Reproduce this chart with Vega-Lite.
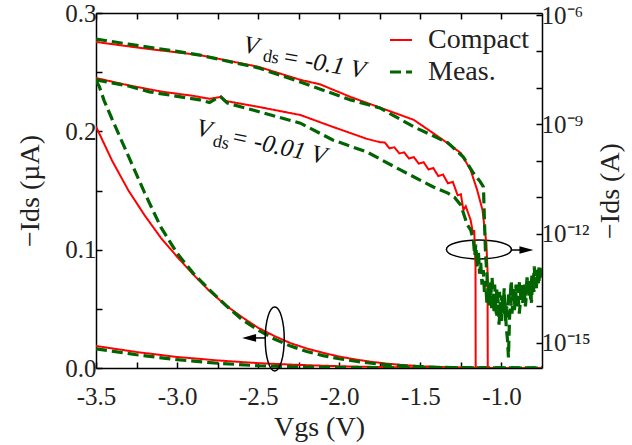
{
  "$schema": "https://vega.github.io/schema/vega-lite/v6.json",
  "width": 446,
  "height": 355,
  "autosize": {"type": "none"},
  "padding": {"left": 96, "top": 13, "right": 90, "bottom": 77},
  "background": "white",
  "config": {
    "font": "Liberation Serif",
    "view": {"stroke": null},
    "axis": {
      "grid": false,
      "domainColor": "black",
      "domainWidth": 1.5,
      "tickColor": "black",
      "tickWidth": 1.5,
      "tickSize": -6,
      "labelColor": "#222",
      "titleColor": "#222",
      "labelFont": "Liberation Serif",
      "titleFont": "Liberation Serif",
      "labelFontSize": 25,
      "titleFontSize": 28,
      "titleFontWeight": "normal",
      "labelFlush": false,
      "labelOverlap": false,
      "labelBound": false
    },
    "legend": {
      "orient": "none",
      "legendX": 291,
      "legendY": 13,
      "padding": 0,
      "title": null,
      "labelFont": "Liberation Serif",
      "labelFontSize": 28,
      "labelColor": "#222",
      "labelOffset": 13,
      "rowPadding": 4,
      "symbolType": "stroke",
      "symbolSize": 484,
      "symbolStrokeWidth": 2.5
    }
  },
  "datasets": {
    "lin": [
      {"x": -3.5, "v": 0.204, "vds": "0.1", "type": "Compact"},
      {"x": -3.4, "v": 0.175, "vds": "0.1", "type": "Compact"},
      {"x": -3.3, "v": 0.150, "vds": "0.1", "type": "Compact"},
      {"x": -3.2, "v": 0.129, "vds": "0.1", "type": "Compact"},
      {"x": -3.1, "v": 0.110, "vds": "0.1", "type": "Compact"},
      {"x": -3.0, "v": 0.094, "vds": "0.1", "type": "Compact"},
      {"x": -2.9, "v": 0.079, "vds": "0.1", "type": "Compact"},
      {"x": -2.8, "v": 0.065, "vds": "0.1", "type": "Compact"},
      {"x": -2.7, "v": 0.053, "vds": "0.1", "type": "Compact"},
      {"x": -2.6, "v": 0.043, "vds": "0.1", "type": "Compact"},
      {"x": -2.5, "v": 0.034, "vds": "0.1", "type": "Compact"},
      {"x": -2.4, "v": 0.027, "vds": "0.1", "type": "Compact"},
      {"x": -2.3, "v": 0.021, "vds": "0.1", "type": "Compact"},
      {"x": -2.2, "v": 0.0165, "vds": "0.1", "type": "Compact"},
      {"x": -2.1, "v": 0.0128, "vds": "0.1", "type": "Compact"},
      {"x": -2.0, "v": 0.0097, "vds": "0.1", "type": "Compact"},
      {"x": -1.9, "v": 0.0072, "vds": "0.1", "type": "Compact"},
      {"x": -1.8, "v": 0.0052, "vds": "0.1", "type": "Compact"},
      {"x": -1.7, "v": 0.0036, "vds": "0.1", "type": "Compact"},
      {"x": -1.6, "v": 0.0024, "vds": "0.1", "type": "Compact"},
      {"x": -1.5, "v": 0.0015, "vds": "0.1", "type": "Compact"},
      {"x": -1.4, "v": 0.0009, "vds": "0.1", "type": "Compact"},
      {"x": -1.3, "v": 0.0005, "vds": "0.1", "type": "Compact"},
      {"x": -1.2, "v": 0.0003, "vds": "0.1", "type": "Compact"},
      {"x": -1.1, "v": 0.0001, "vds": "0.1", "type": "Compact"},
      {"x": -0.9, "v": 0.0, "vds": "0.1", "type": "Compact"},
      {"x": -0.75, "v": 0.0, "vds": "0.1", "type": "Compact"},
      {"x": -3.5, "v": 0.0186, "vds": "0.01", "type": "Compact"},
      {"x": -3.25, "v": 0.0135, "vds": "0.01", "type": "Compact"},
      {"x": -3.0, "v": 0.0093, "vds": "0.01", "type": "Compact"},
      {"x": -2.75, "v": 0.0064, "vds": "0.01", "type": "Compact"},
      {"x": -2.5, "v": 0.0041, "vds": "0.01", "type": "Compact"},
      {"x": -2.25, "v": 0.0026, "vds": "0.01", "type": "Compact"},
      {"x": -2.0, "v": 0.0015, "vds": "0.01", "type": "Compact"},
      {"x": -1.75, "v": 0.0008, "vds": "0.01", "type": "Compact"},
      {"x": -1.5, "v": 0.0004, "vds": "0.01", "type": "Compact"},
      {"x": -1.25, "v": 0.0001, "vds": "0.01", "type": "Compact"},
      {"x": -1.0, "v": 0.0, "vds": "0.01", "type": "Compact"},
      {"x": -0.75, "v": 0.0, "vds": "0.01", "type": "Compact"},
      {"x": -3.5, "v": 0.243, "vds": "0.1", "type": "Meas."},
      {"x": -3.48, "v": 0.238, "vds": "0.1", "type": "Meas."},
      {"x": -3.45, "v": 0.226, "vds": "0.1", "type": "Meas."},
      {"x": -3.4, "v": 0.210, "vds": "0.1", "type": "Meas."},
      {"x": -3.3, "v": 0.179, "vds": "0.1", "type": "Meas."},
      {"x": -3.2, "v": 0.148, "vds": "0.1", "type": "Meas."},
      {"x": -3.1, "v": 0.119, "vds": "0.1", "type": "Meas."},
      {"x": -3.0, "v": 0.097, "vds": "0.1", "type": "Meas."},
      {"x": -2.9, "v": 0.080, "vds": "0.1", "type": "Meas."},
      {"x": -2.8, "v": 0.066, "vds": "0.1", "type": "Meas."},
      {"x": -2.7, "v": 0.053, "vds": "0.1", "type": "Meas."},
      {"x": -2.6, "v": 0.041, "vds": "0.1", "type": "Meas."},
      {"x": -2.5, "v": 0.032, "vds": "0.1", "type": "Meas."},
      {"x": -2.4, "v": 0.0245, "vds": "0.1", "type": "Meas."},
      {"x": -2.3, "v": 0.0185, "vds": "0.1", "type": "Meas."},
      {"x": -2.2, "v": 0.014, "vds": "0.1", "type": "Meas."},
      {"x": -2.1, "v": 0.0105, "vds": "0.1", "type": "Meas."},
      {"x": -2.0, "v": 0.0078, "vds": "0.1", "type": "Meas."},
      {"x": -1.9, "v": 0.0057, "vds": "0.1", "type": "Meas."},
      {"x": -1.8, "v": 0.004, "vds": "0.1", "type": "Meas."},
      {"x": -1.7, "v": 0.0027, "vds": "0.1", "type": "Meas."},
      {"x": -1.6, "v": 0.0018, "vds": "0.1", "type": "Meas."},
      {"x": -1.5, "v": 0.0011, "vds": "0.1", "type": "Meas."},
      {"x": -1.4, "v": 0.0006, "vds": "0.1", "type": "Meas."},
      {"x": -1.3, "v": 0.0003, "vds": "0.1", "type": "Meas."},
      {"x": -1.2, "v": 0.0002, "vds": "0.1", "type": "Meas."},
      {"x": -1.0, "v": 0.0001, "vds": "0.1", "type": "Meas."},
      {"x": -0.75, "v": 0.0001, "vds": "0.1", "type": "Meas."},
      {"x": -3.5, "v": 0.0162, "vds": "0.01", "type": "Meas."},
      {"x": -3.25, "v": 0.0112, "vds": "0.01", "type": "Meas."},
      {"x": -3.0, "v": 0.0070, "vds": "0.01", "type": "Meas."},
      {"x": -2.75, "v": 0.0040, "vds": "0.01", "type": "Meas."},
      {"x": -2.5, "v": 0.0019, "vds": "0.01", "type": "Meas."},
      {"x": -2.25, "v": 0.0009, "vds": "0.01", "type": "Meas."},
      {"x": -2.0, "v": 0.0004, "vds": "0.01", "type": "Meas."},
      {"x": -1.75, "v": 0.0002, "vds": "0.01", "type": "Meas."},
      {"x": -1.5, "v": 0.0001, "vds": "0.01", "type": "Meas."},
      {"x": -0.75, "v": 0.0, "vds": "0.01", "type": "Meas."}
    ],
    "log": [
      {"x": -3.5, "logI": -6.74, "vds": "0.1", "type": "Compact"},
      {"x": -3.2, "logI": -6.92, "vds": "0.1", "type": "Compact"},
      {"x": -2.86, "logI": -7.10, "vds": "0.1", "type": "Compact"},
      {"x": -2.5, "logI": -7.42, "vds": "0.1", "type": "Compact"},
      {"x": -2.24, "logI": -7.78, "vds": "0.1", "type": "Compact"},
      {"x": -2.12, "logI": -7.90, "vds": "0.1", "type": "Compact"},
      {"x": -1.93, "logI": -8.25, "vds": "0.1", "type": "Compact"},
      {"x": -1.62, "logI": -8.75, "vds": "0.1", "type": "Compact"},
      {"x": -1.54, "logI": -8.88, "vds": "0.1", "type": "Compact"},
      {"x": -1.36, "logI": -9.43, "vds": "0.1", "type": "Compact"},
      {"x": -1.25, "logI": -9.79, "vds": "0.1", "type": "Compact"},
      {"x": -1.19, "logI": -10.26, "vds": "0.1", "type": "Compact"},
      {"x": -1.15, "logI": -10.80, "vds": "0.1", "type": "Compact"},
      {"x": -1.117, "logI": -11.35, "vds": "0.1", "type": "Compact"},
      {"x": -1.105, "logI": -11.82, "vds": "0.1", "type": "Compact"},
      {"x": -1.093, "logI": -12.26, "vds": "0.1", "type": "Compact"},
      {"x": -1.086, "logI": -13.0, "vds": "0.1", "type": "Compact"},
      {"x": -1.083, "logI": -18.0, "vds": "0.1", "type": "Compact"},
      {"x": -3.5, "logI": -7.73, "vds": "0.01", "type": "Compact"},
      {"x": -3.3, "logI": -7.93, "vds": "0.01", "type": "Compact"},
      {"x": -3.1, "logI": -8.10, "vds": "0.01", "type": "Compact"},
      {"x": -2.9, "logI": -8.22, "vds": "0.01", "type": "Compact"},
      {"x": -2.8, "logI": -8.30, "vds": "0.01", "type": "Compact"},
      {"x": -2.76, "logI": -8.27, "vds": "0.01", "type": "Compact"},
      {"x": -2.73, "logI": -8.25, "vds": "0.01", "type": "Compact"},
      {"x": -2.70, "logI": -8.36, "vds": "0.01", "type": "Compact"},
      {"x": -2.5, "logI": -8.52, "vds": "0.01", "type": "Compact"},
      {"x": -2.24, "logI": -8.745, "vds": "0.01", "type": "Compact"},
      {"x": -2.04, "logI": -9.07, "vds": "0.01", "type": "Compact"},
      {"x": -1.83, "logI": -9.40, "vds": "0.01", "type": "Compact"},
      {"x": -1.75, "logI": -9.49, "vds": "0.01", "type": "Compact"},
      {"x": -1.72, "logI": -9.50, "vds": "0.01", "type": "Compact"},
      {"x": -1.69, "logI": -9.66, "vds": "0.01", "type": "Compact"},
      {"x": -1.66, "logI": -9.63, "vds": "0.01", "type": "Compact"},
      {"x": -1.63, "logI": -9.80, "vds": "0.01", "type": "Compact"},
      {"x": -1.60, "logI": -9.77, "vds": "0.01", "type": "Compact"},
      {"x": -1.57, "logI": -9.94, "vds": "0.01", "type": "Compact"},
      {"x": -1.54, "logI": -9.90, "vds": "0.01", "type": "Compact"},
      {"x": -1.51, "logI": -10.08, "vds": "0.01", "type": "Compact"},
      {"x": -1.48, "logI": -10.04, "vds": "0.01", "type": "Compact"},
      {"x": -1.45, "logI": -10.24, "vds": "0.01", "type": "Compact"},
      {"x": -1.42, "logI": -10.20, "vds": "0.01", "type": "Compact"},
      {"x": -1.39, "logI": -10.42, "vds": "0.01", "type": "Compact"},
      {"x": -1.36, "logI": -10.38, "vds": "0.01", "type": "Compact"},
      {"x": -1.33, "logI": -10.62, "vds": "0.01", "type": "Compact"},
      {"x": -1.30, "logI": -10.58, "vds": "0.01", "type": "Compact"},
      {"x": -1.27, "logI": -10.95, "vds": "0.01", "type": "Compact"},
      {"x": -1.25, "logI": -10.92, "vds": "0.01", "type": "Compact"},
      {"x": -1.235, "logI": -11.35, "vds": "0.01", "type": "Compact"},
      {"x": -1.22, "logI": -11.25, "vds": "0.01", "type": "Compact"},
      {"x": -1.19, "logI": -11.63, "vds": "0.01", "type": "Compact"},
      {"x": -1.175, "logI": -12.0, "vds": "0.01", "type": "Compact"},
      {"x": -1.168, "logI": -11.9, "vds": "0.01", "type": "Compact"},
      {"x": -1.16, "logI": -12.9, "vds": "0.01", "type": "Compact"},
      {"x": -1.158, "logI": -18.0, "vds": "0.01", "type": "Compact"},
      {"x": -3.5, "logI": -6.66, "vds": "0.1", "type": "Meas."},
      {"x": -3.3, "logI": -6.80, "vds": "0.1", "type": "Meas."},
      {"x": -3.0, "logI": -7.00, "vds": "0.1", "type": "Meas."},
      {"x": -2.86, "logI": -7.10, "vds": "0.1", "type": "Meas."},
      {"x": -2.5, "logI": -7.45, "vds": "0.1", "type": "Meas."},
      {"x": -2.24, "logI": -7.84, "vds": "0.1", "type": "Meas."},
      {"x": -1.93, "logI": -8.33, "vds": "0.1", "type": "Meas."},
      {"x": -1.75, "logI": -8.55, "vds": "0.1", "type": "Meas."},
      {"x": -1.54, "logI": -9.07, "vds": "0.1", "type": "Meas."},
      {"x": -1.33, "logI": -9.51, "vds": "0.1", "type": "Meas."},
      {"x": -1.235, "logI": -9.90, "vds": "0.1", "type": "Meas."},
      {"x": -1.173, "logI": -10.34, "vds": "0.1", "type": "Meas."},
      {"x": -1.13, "logI": -10.58, "vds": "0.1", "type": "Meas."},
      {"x": -1.111, "logI": -10.72, "vds": "0.1", "type": "Meas."},
      {"x": -1.105, "logI": -11.63, "vds": "0.1", "type": "Meas."},
      {"x": -1.099, "logI": -12.45, "vds": "0.1", "type": "Meas."},
      {"x": -1.086, "logI": -13.41, "vds": "0.1", "type": "Meas."},
      {"x": -1.080, "logI": -13.6, "vds": "0.1", "type": "Meas."},
      {"x": -1.072, "logI": -13.3, "vds": "0.1", "type": "Meas."},
      {"x": -1.065, "logI": -13.7, "vds": "0.1", "type": "Meas."},
      {"x": -1.058, "logI": -13.2, "vds": "0.1", "type": "Meas."},
      {"x": -1.050, "logI": -13.8, "vds": "0.1", "type": "Meas."},
      {"x": -1.042, "logI": -13.4, "vds": "0.1", "type": "Meas."},
      {"x": -1.035, "logI": -14.0, "vds": "0.1", "type": "Meas."},
      {"x": -1.028, "logI": -13.5, "vds": "0.1", "type": "Meas."},
      {"x": -1.020, "logI": -13.9, "vds": "0.1", "type": "Meas."},
      {"x": -1.012, "logI": -13.6, "vds": "0.1", "type": "Meas."},
      {"x": -1.005, "logI": -14.3, "vds": "0.1", "type": "Meas."},
      {"x": -0.998, "logI": -13.7, "vds": "0.1", "type": "Meas."},
      {"x": -0.990, "logI": -14.1, "vds": "0.1", "type": "Meas."},
      {"x": -0.983, "logI": -13.5, "vds": "0.1", "type": "Meas."},
      {"x": -0.975, "logI": -14.4, "vds": "0.1", "type": "Meas."},
      {"x": -0.968, "logI": -14.0, "vds": "0.1", "type": "Meas."},
      {"x": -0.962, "logI": -14.3, "vds": "0.1", "type": "Meas."},
      {"x": -0.955, "logI": -13.6, "vds": "0.1", "type": "Meas."},
      {"x": -0.948, "logI": -13.9, "vds": "0.1", "type": "Meas."},
      {"x": -0.940, "logI": -13.3, "vds": "0.1", "type": "Meas."},
      {"x": -0.932, "logI": -13.8, "vds": "0.1", "type": "Meas."},
      {"x": -0.925, "logI": -13.5, "vds": "0.1", "type": "Meas."},
      {"x": -0.918, "logI": -14.0, "vds": "0.1", "type": "Meas."},
      {"x": -0.910, "logI": -13.4, "vds": "0.1", "type": "Meas."},
      {"x": -0.902, "logI": -13.9, "vds": "0.1", "type": "Meas."},
      {"x": -0.895, "logI": -13.6, "vds": "0.1", "type": "Meas."},
      {"x": -0.888, "logI": -13.3, "vds": "0.1", "type": "Meas."},
      {"x": -0.880, "logI": -13.8, "vds": "0.1", "type": "Meas."},
      {"x": -0.872, "logI": -13.5, "vds": "0.1", "type": "Meas."},
      {"x": -0.865, "logI": -13.9, "vds": "0.1", "type": "Meas."},
      {"x": -0.858, "logI": -13.4, "vds": "0.1", "type": "Meas."},
      {"x": -0.850, "logI": -13.7, "vds": "0.1", "type": "Meas."},
      {"x": -0.842, "logI": -13.2, "vds": "0.1", "type": "Meas."},
      {"x": -0.835, "logI": -13.6, "vds": "0.1", "type": "Meas."},
      {"x": -0.828, "logI": -13.3, "vds": "0.1", "type": "Meas."},
      {"x": -0.820, "logI": -13.8, "vds": "0.1", "type": "Meas."},
      {"x": -0.812, "logI": -13.1, "vds": "0.1", "type": "Meas."},
      {"x": -0.805, "logI": -13.5, "vds": "0.1", "type": "Meas."},
      {"x": -0.798, "logI": -12.9, "vds": "0.1", "type": "Meas."},
      {"x": -0.790, "logI": -13.4, "vds": "0.1", "type": "Meas."},
      {"x": -0.782, "logI": -13.0, "vds": "0.1", "type": "Meas."},
      {"x": -0.775, "logI": -13.3, "vds": "0.1", "type": "Meas."},
      {"x": -0.768, "logI": -12.9, "vds": "0.1", "type": "Meas."},
      {"x": -0.760, "logI": -13.2, "vds": "0.1", "type": "Meas."},
      {"x": -0.752, "logI": -13.0, "vds": "0.1", "type": "Meas."},
      {"x": -0.745, "logI": -13.1, "vds": "0.1", "type": "Meas."},
      {"x": -3.5, "logI": -7.78, "vds": "0.01", "type": "Meas."},
      {"x": -3.3, "logI": -7.95, "vds": "0.01", "type": "Meas."},
      {"x": -3.17, "logI": -8.11, "vds": "0.01", "type": "Meas."},
      {"x": -2.86, "logI": -8.33, "vds": "0.01", "type": "Meas."},
      {"x": -2.80, "logI": -8.40, "vds": "0.01", "type": "Meas."},
      {"x": -2.76, "logI": -8.30, "vds": "0.01", "type": "Meas."},
      {"x": -2.73, "logI": -8.25, "vds": "0.01", "type": "Meas."},
      {"x": -2.69, "logI": -8.42, "vds": "0.01", "type": "Meas."},
      {"x": -2.5, "logI": -8.65, "vds": "0.01", "type": "Meas."},
      {"x": -2.24, "logI": -8.97, "vds": "0.01", "type": "Meas."},
      {"x": -2.04, "logI": -9.43, "vds": "0.01", "type": "Meas."},
      {"x": -1.83, "logI": -9.76, "vds": "0.01", "type": "Meas."},
      {"x": -1.62, "logI": -10.26, "vds": "0.01", "type": "Meas."},
      {"x": -1.42, "logI": -10.72, "vds": "0.01", "type": "Meas."},
      {"x": -1.33, "logI": -10.89, "vds": "0.01", "type": "Meas."},
      {"x": -1.29, "logI": -11.0, "vds": "0.01", "type": "Meas."},
      {"x": -1.25, "logI": -11.22, "vds": "0.01", "type": "Meas."},
      {"x": -1.23, "logI": -11.5, "vds": "0.01", "type": "Meas."},
      {"x": -1.21, "logI": -11.76, "vds": "0.01", "type": "Meas."},
      {"x": -1.19, "logI": -11.9, "vds": "0.01", "type": "Meas."},
      {"x": -1.173, "logI": -12.18, "vds": "0.01", "type": "Meas."},
      {"x": -1.165, "logI": -12.6, "vds": "0.01", "type": "Meas."},
      {"x": -1.158, "logI": -12.3, "vds": "0.01", "type": "Meas."},
      {"x": -1.150, "logI": -12.9, "vds": "0.01", "type": "Meas."},
      {"x": -1.142, "logI": -12.5, "vds": "0.01", "type": "Meas."},
      {"x": -1.135, "logI": -13.1, "vds": "0.01", "type": "Meas."},
      {"x": -1.128, "logI": -12.8, "vds": "0.01", "type": "Meas."},
      {"x": -1.120, "logI": -13.4, "vds": "0.01", "type": "Meas."},
      {"x": -1.112, "logI": -13.0, "vds": "0.01", "type": "Meas."},
      {"x": -1.105, "logI": -13.6, "vds": "0.01", "type": "Meas."},
      {"x": -1.098, "logI": -13.3, "vds": "0.01", "type": "Meas."},
      {"x": -1.090, "logI": -13.9, "vds": "0.01", "type": "Meas."},
      {"x": -1.082, "logI": -13.5, "vds": "0.01", "type": "Meas."},
      {"x": -1.075, "logI": -14.0, "vds": "0.01", "type": "Meas."},
      {"x": -1.068, "logI": -13.6, "vds": "0.01", "type": "Meas."},
      {"x": -1.060, "logI": -14.1, "vds": "0.01", "type": "Meas."},
      {"x": -1.052, "logI": -13.7, "vds": "0.01", "type": "Meas."},
      {"x": -1.045, "logI": -14.2, "vds": "0.01", "type": "Meas."},
      {"x": -1.038, "logI": -13.8, "vds": "0.01", "type": "Meas."},
      {"x": -1.030, "logI": -14.3, "vds": "0.01", "type": "Meas."},
      {"x": -1.022, "logI": -13.9, "vds": "0.01", "type": "Meas."},
      {"x": -1.015, "logI": -14.5, "vds": "0.01", "type": "Meas."},
      {"x": -1.008, "logI": -14.0, "vds": "0.01", "type": "Meas."},
      {"x": -1.000, "logI": -14.4, "vds": "0.01", "type": "Meas."},
      {"x": -0.993, "logI": -13.8, "vds": "0.01", "type": "Meas."},
      {"x": -0.985, "logI": -14.2, "vds": "0.01", "type": "Meas."},
      {"x": -0.978, "logI": -13.9, "vds": "0.01", "type": "Meas."},
      {"x": -0.970, "logI": -14.6, "vds": "0.01", "type": "Meas."},
      {"x": -0.963, "logI": -14.9, "vds": "0.01", "type": "Meas."},
      {"x": -0.957, "logI": -15.4, "vds": "0.01", "type": "Meas."},
      {"x": -0.950, "logI": -14.3, "vds": "0.01", "type": "Meas."},
      {"x": -0.943, "logI": -13.8, "vds": "0.01", "type": "Meas."},
      {"x": -0.935, "logI": -14.2, "vds": "0.01", "type": "Meas."},
      {"x": -0.928, "logI": -13.7, "vds": "0.01", "type": "Meas."},
      {"x": -0.920, "logI": -14.1, "vds": "0.01", "type": "Meas."},
      {"x": -0.912, "logI": -13.6, "vds": "0.01", "type": "Meas."},
      {"x": -0.905, "logI": -14.0, "vds": "0.01", "type": "Meas."},
      {"x": -0.897, "logI": -13.7, "vds": "0.01", "type": "Meas."},
      {"x": -0.890, "logI": -14.2, "vds": "0.01", "type": "Meas."},
      {"x": -0.882, "logI": -13.8, "vds": "0.01", "type": "Meas."},
      {"x": -0.875, "logI": -13.4, "vds": "0.01", "type": "Meas."},
      {"x": -0.868, "logI": -13.9, "vds": "0.01", "type": "Meas."},
      {"x": -0.860, "logI": -13.5, "vds": "0.01", "type": "Meas."},
      {"x": -0.852, "logI": -14.0, "vds": "0.01", "type": "Meas."},
      {"x": -0.845, "logI": -13.6, "vds": "0.01", "type": "Meas."},
      {"x": -0.838, "logI": -13.3, "vds": "0.01", "type": "Meas."},
      {"x": -0.830, "logI": -13.7, "vds": "0.01", "type": "Meas."},
      {"x": -0.822, "logI": -13.4, "vds": "0.01", "type": "Meas."},
      {"x": -0.815, "logI": -13.9, "vds": "0.01", "type": "Meas."},
      {"x": -0.808, "logI": -13.3, "vds": "0.01", "type": "Meas."},
      {"x": -0.800, "logI": -13.6, "vds": "0.01", "type": "Meas."},
      {"x": -0.792, "logI": -13.2, "vds": "0.01", "type": "Meas."},
      {"x": -0.785, "logI": -13.5, "vds": "0.01", "type": "Meas."},
      {"x": -0.778, "logI": -13.1, "vds": "0.01", "type": "Meas."},
      {"x": -0.770, "logI": -13.4, "vds": "0.01", "type": "Meas."},
      {"x": -0.762, "logI": -12.9, "vds": "0.01", "type": "Meas."},
      {"x": -0.755, "logI": -13.2, "vds": "0.01", "type": "Meas."},
      {"x": -0.748, "logI": -13.0, "vds": "0.01", "type": "Meas."}
    ]
  },
  "layer": [
    {
      "layer": [
        {
          "data": {"name": "lin"},
          "mark": {"type": "line", "clip": true},
          "encoding": {
            "x": {
              "field": "x", "type": "quantitative",
              "scale": {"domain": [-3.5, -0.75], "nice": false, "zero": false},
              "axis": {
                "orient": "bottom",
                "values": [-3.5, -3.25, -3.0, -2.75, -2.5, -2.25, -2.0, -1.75, -1.5, -1.25, -1.0],
                "labelExpr": "abs(datum.value*2 - round(datum.value*2)) < 0.01 ? ('-' + format(abs(datum.value), '.1f')) : ''",
                "labelFont": "Liberation Serif",
                "titleFont": "Liberation Serif",
                "labelFontSize": 25,
                "titleFontSize": 28,
                "labelPadding": 22,
                "title": "Vgs (V)",
                "titlePadding": 4
              }
            },
            "y": {
              "field": "v", "type": "quantitative",
              "scale": {"domain": [0, 0.3], "nice": false, "zero": false},
              "axis": {
                "orient": "left",
                "values": [0, 0.05, 0.1, 0.15, 0.2, 0.25, 0.3],
                "labelExpr": "abs(datum.value*10 - round(datum.value*10)) < 0.01 ? format(datum.value, '.1f') : ''",
                "labelFont": "Liberation Serif",
                "titleFont": "Liberation Serif",
                "labelFontSize": 25,
                "titleFontSize": 28,
                "labelPadding": 6,
                "title": "−Ids (µA)",
                "titlePadding": 20
              }
            },
            "color": {
              "field": "type", "type": "nominal",
              "scale": {"domain": ["Compact", "Meas."], "range": ["#ff0000", "#006400"]},
              "legend": {"title": null}
            },
            "strokeDash": {
              "field": "type", "type": "nominal",
              "scale": {"domain": ["Compact", "Meas."], "range": [[1, 0], [11, 5]]},
              "legend": {"title": null}
            },
            "strokeWidth": {
              "field": "type", "type": "nominal",
              "scale": {"domain": ["Compact", "Meas."], "range": [2, 3.2]},
              "legend": null
            },
            "detail": {"field": "vds"}
          }
        },
        {
          "data": {"values": [{"x": -2.398, "v": 0.0245}]},
          "mark": {"type": "point", "shape": "M0,-1A0.297,1,0,1,1,0,1A0.297,1,0,1,1,0,-1Z", "size": 4096, "filled": false, "stroke": "black", "strokeWidth": 1.5, "opacity": 1},
          "encoding": {"x": {"field": "x", "type": "quantitative"}, "y": {"field": "v", "type": "quantitative"}}
        },
        {
          "data": {"values": [{"x": -1.139, "v": 0.1002}]},
          "mark": {"type": "point", "shape": "M-1,0A1,0.292,0,1,1,1,0A1,0.292,0,1,1,-1,0Z", "size": 4225, "filled": false, "stroke": "black", "strokeWidth": 1.5, "opacity": 1},
          "encoding": {"x": {"field": "x", "type": "quantitative"}, "y": {"field": "v", "type": "quantitative"}}
        },
        {
          "data": {"values": [{"x": -2.457, "x2": -2.52, "v": 0.0254}, {"x": -0.938, "x2": -0.875, "v": 0.0997}]},
          "mark": {"type": "rule", "stroke": "black", "strokeWidth": 1.5},
          "encoding": {"x": {"field": "x", "type": "quantitative"}, "x2": {"field": "x2"}, "y": {"field": "v", "type": "quantitative"}}
        },
        {
          "data": {"values": [{"x": -2.556, "v": 0.0254}]},
          "mark": {"type": "point", "shape": "M-1,0L1,-0.55L1,0.55Z", "size": 196, "filled": true, "fill": "black", "stroke": null, "opacity": 1},
          "encoding": {"x": {"field": "x", "type": "quantitative"}, "y": {"field": "v", "type": "quantitative"}}
        },
        {
          "data": {"values": [{"x": -0.846, "v": 0.0997}]},
          "mark": {"type": "point", "shape": "M1,0L-1,-0.55L-1,0.55Z", "size": 196, "filled": true, "fill": "black", "stroke": null, "opacity": 1},
          "encoding": {"x": {"field": "x", "type": "quantitative"}, "y": {"field": "v", "type": "quantitative"}}
        },
        {
          "data": {"values": [{"x": -2.599, "v": 0.267, "t": "V"}, {"x": -2.358, "v": 0.257, "t": "= -0.1 V"}]},
          "mark": {"type": "text", "font": "Liberation Serif", "fontStyle": "italic", "fontSize": 25, "align": "left", "baseline": "alphabetic", "angle": 10, "color": "#111"},
          "encoding": {"x": {"field": "x", "type": "quantitative"}, "y": {"field": "v", "type": "quantitative"}, "text": {"field": "t"}}
        },
        {
          "data": {"values": [{"x": -2.475, "v": 0.2595, "t": "ds"}]},
          "mark": {"type": "text", "font": "Liberation Serif", "fontSize": 18, "align": "left", "baseline": "alphabetic", "angle": 10, "color": "#111"},
          "encoding": {"x": {"field": "x", "type": "quantitative"}, "y": {"field": "v", "type": "quantitative"}, "text": {"field": "t"}}
        },
        {
          "data": {"values": [{"x": -2.889, "v": 0.197, "t": "V"}, {"x": -2.673, "v": 0.1893, "t": "= -0.01 V"}]},
          "mark": {"type": "text", "font": "Liberation Serif", "fontStyle": "italic", "fontSize": 25, "align": "left", "baseline": "alphabetic", "angle": 12, "color": "#111"},
          "encoding": {"x": {"field": "x", "type": "quantitative"}, "y": {"field": "v", "type": "quantitative"}, "text": {"field": "t"}}
        },
        {
          "data": {"values": [{"x": -2.784, "v": 0.1877, "t": "ds"}]},
          "mark": {"type": "text", "font": "Liberation Serif", "fontSize": 18, "align": "left", "baseline": "alphabetic", "angle": 12, "color": "#111"},
          "encoding": {"x": {"field": "x", "type": "quantitative"}, "y": {"field": "v", "type": "quantitative"}, "text": {"field": "t"}}
        }
      ]
    },
    {
      "data": {"name": "log"},
      "mark": {"type": "line", "clip": true},
      "encoding": {
        "x": {
          "field": "x", "type": "quantitative",
          "scale": {"domain": [-3.5, -0.75], "nice": false, "zero": false},
          "axis": {
            "orient": "top",
            "values": [-3.5, -3.25, -3.0, -2.75, -2.5, -2.25, -2.0, -1.75, -1.5, -1.25, -1.0],
            "labels": false,
            "title": null
          }
        },
        "y": {
          "field": "logI", "type": "quantitative",
          "scale": {"domain": [-15.69, -5.945], "nice": false, "zero": false},
          "axis": {
            "orient": "right",
            "values": [-15, -14, -13, -12, -11, -10, -9, -8, -7, -6],
            "labelExpr": "datum.value == -6 ? '10⁻⁶' : datum.value == -9 ? '10⁻⁹' : datum.value == -12 ? '10⁻¹²' : datum.value == -15 ? '10⁻¹⁵' : ''",
            "labelFont": "Liberation Serif",
            "titleFont": "Liberation Serif",
            "labelFontSize": 25,
            "titleFontSize": 28,
            "labelPadding": 5,
            "title": "−Ids (A)",
            "titleAngle": 270,
            "titleBaseline": "top",
            "titlePadding": 6
          }
        },
        "color": {"field": "type", "type": "nominal", "legend": {"title": null}},
        "strokeDash": {"field": "type", "type": "nominal", "legend": {"title": null}},
        "strokeWidth": {"field": "type", "type": "nominal", "legend": null},
        "detail": {"field": "vds"}
      }
    }
  ],
  "resolve": {"scale": {"y": "independent", "x": "independent"}}
}
